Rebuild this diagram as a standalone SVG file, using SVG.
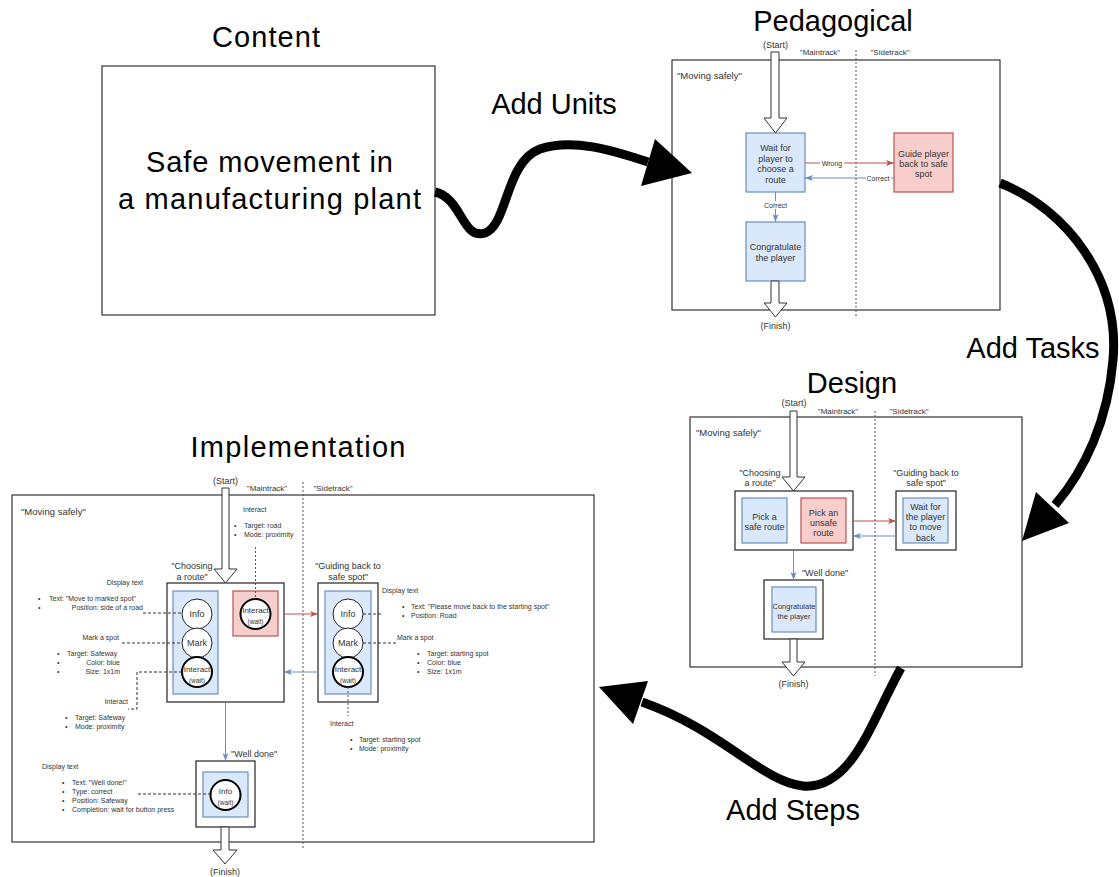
<svg xmlns="http://www.w3.org/2000/svg" width="1119" height="877" viewBox="0 0 1119 877">
<defs>
<style>
text{font-family:"Liberation Sans",Arial,sans-serif;fill:#333}
.title{font-size:29px;fill:#000;text-anchor:middle}
.big{font-size:29px;fill:#000;text-anchor:middle}
.m{text-anchor:middle}
.e{text-anchor:end}
.f10{font-size:9.5px}
.f9{font-size:9px}
.f8{font-size:8px}
.f75{font-size:7.5px}
.f7{font-size:7px}
.f6{font-size:6.5px}
.panel{fill:#fff;stroke:#333;stroke-width:1.2}
.cont{fill:#fff;stroke:#222;stroke-width:1.2}
.blue{fill:#dae8fc;stroke:#6c8ebf;stroke-width:1.2}
.red{fill:#f8cecc;stroke:#b85450;stroke-width:1.2}
.circ{fill:#fff;stroke:#222;stroke-width:1}
.circT{fill:#fff;stroke:#000;stroke-width:2}
.lane{stroke:#555;stroke-width:1;stroke-dasharray:2 2;fill:none}
.dash{stroke:#333;stroke-width:1;stroke-dasharray:3 2;fill:none}
.dot{stroke:#555;stroke-width:1;stroke-dasharray:2 2;fill:none}
.ar{stroke:#b85450;stroke-width:1;fill:none;marker-end:url(#mr)}
.ab{stroke:#6c8ebf;stroke-width:1;fill:none;marker-end:url(#mb)}
.hollow{fill:#fff;stroke:#333;stroke-width:1}
.thick{fill:none;stroke:#000;stroke-width:9}
.lbl{fill:#fff}
</style>
<marker id="mr" viewBox="0 0 8 6" refX="8" refY="3" markerWidth="8" markerHeight="6" markerUnits="userSpaceOnUse" orient="auto"><path d="M0,0 L8,3 L0,6 L2,3 z" fill="#b85450"/></marker>
<marker id="mb" viewBox="0 0 8 6" refX="8" refY="3" markerWidth="8" markerHeight="6" markerUnits="userSpaceOnUse" orient="auto"><path d="M0,0 L8,3 L0,6 L2,3 z" fill="#6c8ebf"/></marker>
</defs>
<rect width="1119" height="877" fill="#fff"/>

<!-- Content -->
<g id="content">
<text class="title" x="266" y="47" textLength="108">Content</text>
<rect x="102" y="66" width="333" height="249" fill="#fff" stroke="#333" stroke-width="1.2"/>
<text class="big" x="269.5" y="172" textLength="247">Safe movement in</text>
<text class="big" x="269.5" y="209" textLength="303">a manufacturing plant</text>
</g>

<g id="labels">
<text class="big" x="554" y="114">Add Units</text>
<text class="big" x="1033" y="358">Add Tasks</text>
<text class="big" x="793" y="820">Add Steps</text>
</g>

<!-- Pedagogical -->
<g id="pedagogical">
<text class="title" x="833" y="31">Pedagogical</text>
<rect class="panel" x="672" y="60" width="328" height="250"/>
<line class="lane" x1="856" y1="50" x2="856" y2="318"/>
<text class="f9 m" x="775.5" y="48">(Start)</text>
<text class="f8 m" x="820" y="55">"Maintrack"</text>
<text class="f8 m" x="890" y="55">"Sidetrack"</text>
<text class="f10" x="677" y="79">"Moving safely"</text>
<text class="f9 m" x="775.5" y="329">(Finish)</text>
</g>
<g id="ped-wait">
<rect class="blue" x="746" y="133" width="59" height="59"/>
<text class="f9 m" x="775.5" y="151">Wait for</text>
<text class="f9 m" x="775.5" y="162">player to</text>
<text class="f9 m" x="775.5" y="172">choose a</text>
<text class="f9 m" x="775.5" y="183">route</text>
</g>
<g id="ped-guide">
<rect class="red" x="894" y="133" width="59" height="59"/>
<text class="f9 m" x="923.5" y="157">Guide player</text>
<text class="f9 m" x="923.5" y="167">back to safe</text>
<text class="f9 m" x="923.5" y="177">spot</text>
</g>
<g id="ped-congrat">
<rect class="blue" x="746" y="222" width="59" height="59"/>
<text class="f9 m" x="775.5" y="250">Congratulate</text>
<text class="f9 m" x="775.5" y="261">the player</text>
</g>

<!-- Design -->
<g id="design">
<text class="title" x="852" y="393">Design</text>
<rect class="panel" x="690" y="417" width="332" height="250"/>
<line class="lane" x1="875" y1="411" x2="875" y2="676"/>
<text class="f9 m" x="794" y="406">(Start)</text>
<text class="f8 m" x="838" y="414">"Maintrack"</text>
<text class="f8 m" x="909" y="414">"Sidetrack"</text>
<text class="f10" x="696" y="436">"Moving safely"</text>
<text class="f9 m" x="793.5" y="687">(Finish)</text>
</g>
<g id="des-choosing">
<text class="f9 m" x="760" y="476">"Choosing</text>
<text class="f9 m" x="760" y="486">a route"</text>
<rect class="cont" x="735" y="491" width="118" height="59"/>
<rect class="blue" x="742" y="498" width="45" height="45"/>
<text class="f9 m" x="764.5" y="520">Pick a</text>
<text class="f9 m" x="764.5" y="530">safe route</text>
<rect class="red" x="801" y="498" width="45" height="45"/>
<text class="f9 m" x="823.5" y="516">Pick an</text>
<text class="f9 m" x="823.5" y="526">unsafe</text>
<text class="f9 m" x="823.5" y="536">route</text>
</g>
<g id="des-guiding">
<text class="f9 m" x="926" y="476">"Guiding back to</text>
<text class="f9 m" x="926" y="486">safe spot"</text>
<rect class="cont" x="896" y="491" width="60" height="59"/>
<rect class="blue" x="903" y="498" width="45" height="45"/>
<text class="f9 m" x="925.5" y="510">Wait for</text>
<text class="f9 m" x="925.5" y="520">the player</text>
<text class="f9 m" x="925.5" y="530">to move</text>
<text class="f9 m" x="925.5" y="541">back</text>
</g>
<g id="des-welldone">
<text class="f9 m" x="825" y="576">"Well done"</text>
<rect class="cont" x="764" y="580" width="59" height="59"/>
<rect class="blue" x="772" y="587" width="44" height="45"/>
<text class="f75 m" x="794" y="609">Congratulate</text>
<text class="f75 m" x="794" y="619">the player</text>
</g>

<!-- Implementation -->
<g id="implementation">
<text class="title" x="298" y="457" textLength="215">Implementation</text>
<rect class="panel" x="12" y="495" width="582" height="347"/>
<line class="lane" x1="303" y1="482" x2="303" y2="850"/>
<text class="f9 m" x="225.5" y="484">(Start)</text>
<text class="f8 m" x="267" y="491">"Maintrack"</text>
<text class="f8 m" x="333" y="491">"Sidetrack"</text>
<text class="f10" x="21" y="515">"Moving safely"</text>
<text class="f9 m" x="225" y="875">(Finish)</text>
</g>
<g id="imp-choosing">
<text class="f9 m" x="192" y="569">"Choosing</text>
<text class="f9 m" x="192" y="580">a route"</text>
<rect class="cont" x="167" y="583" width="117" height="119"/>
<rect class="blue" x="173" y="591" width="45" height="103"/>
<circle class="circ" cx="197" cy="614" r="15"/>
<text class="f9 m" x="197" y="617">Info</text>
<circle class="circ" cx="197" cy="643" r="15"/>
<text class="f9 m" x="197" y="646">Mark</text>
<circle class="circT" cx="197" cy="672" r="15"/>
<text class="f8 m" x="197" y="672">Interact</text>
<text class="f6 m" x="197" y="683">(wait)</text>
<rect class="red" x="233" y="591" width="45" height="45"/>
<circle class="circT" cx="255.5" cy="614" r="15"/>
<text class="f8 m" x="255.5" y="613">Interact</text>
<text class="f6 m" x="255.5" y="624">(wait)</text>
</g>
<g id="imp-guiding">
<text class="f9 m" x="348" y="569">"Guiding back to</text>
<text class="f9 m" x="348" y="580">safe spot"</text>
<rect class="cont" x="318" y="583" width="60" height="119"/>
<rect class="blue" x="325" y="591" width="46" height="103"/>
<circle class="circ" cx="348" cy="614" r="15"/>
<text class="f9 m" x="348" y="617">Info</text>
<circle class="circ" cx="348" cy="643" r="15"/>
<text class="f9 m" x="348" y="646">Mark</text>
<circle class="circT" cx="348" cy="672" r="15"/>
<text class="f8 m" x="348" y="672">Interact</text>
<text class="f6 m" x="348" y="683">(wait)</text>
</g>
<g id="imp-welldone">
<text class="f9" x="231" y="757">"Well done"</text>
<rect class="cont" x="196" y="761" width="59" height="66"/>
<rect class="blue" x="203" y="772" width="45" height="45"/>
<circle class="circT" cx="225.5" cy="795" r="15"/>
<text class="f8 m" x="225.5" y="794">Info</text>
<text class="f6 m" x="225.5" y="805">(wait)</text>
</g>

<!-- Annotations -->
<g id="ann-top">
<text class="f7" x="243" y="512">Interact</text>
<text class="f7" x="234" y="528">•</text><text class="f7" x="244" y="528">Target: road</text>
<text class="f7" x="234" y="537">•</text><text class="f7" x="244" y="537">Mode: proximity</text>
</g>
<g id="ann-left">
<text class="f7 e" x="143" y="585">Display text</text>
<text class="f7" x="38" y="601">•</text><text class="f7" x="49" y="601">Text: "Move to marked spot"</text>
<text class="f7" x="38" y="610">•</text><text class="f7 e" x="143" y="610">Position: side of a road</text>
<text class="f7 e" x="119" y="640">Mark a spot</text>
<text class="f7" x="57" y="656">•</text><text class="f7" x="67" y="656">Target: Safeway</text>
<text class="f7" x="57" y="665">•</text><text class="f7 e" x="120" y="665">Color: blue</text>
<text class="f7" x="57" y="674">•</text><text class="f7 e" x="120" y="674">Size: 1x1m</text>
<text class="f7 e" x="128" y="704">Interact</text>
<text class="f7" x="65" y="720">•</text><text class="f7" x="75" y="720">Target: Safeway</text>
<text class="f7" x="65" y="729">•</text><text class="f7" x="75" y="729">Mode: proximity</text>
</g>
<g id="ann-right">
<text class="f7" x="382" y="593">Display text</text>
<text class="f7" x="402" y="609">•</text><text class="f7" x="411" y="609">Text: "Please move back to the starting spot"</text>
<text class="f7" x="402" y="618">•</text><text class="f7" x="411" y="618">Position: Road</text>
<text class="f7" x="397" y="640">Mark a spot</text>
<text class="f7" x="417" y="656">•</text><text class="f7" x="427" y="656">Target: starting spot</text>
<text class="f7" x="417" y="665">•</text><text class="f7" x="427" y="665">Color: blue</text>
<text class="f7" x="417" y="674">•</text><text class="f7" x="427" y="674">Size: 1x1m</text>
<text class="f7" x="330" y="726">Interact</text>
<text class="f7" x="350" y="742">•</text><text class="f7" x="359" y="742">Target: starting spot</text>
<text class="f7" x="350" y="751">•</text><text class="f7" x="359" y="751">Mode: proximity</text>
</g>
<g id="ann-bottom">
<text class="f7" x="42" y="769">Display text</text>
<text class="f7" x="62" y="785">•</text><text class="f7" x="72" y="785">Text: "Well done!"</text>
<text class="f7" x="62" y="794">•</text><text class="f7" x="72" y="794">Type: correct</text>
<text class="f7" x="62" y="803">•</text><text class="f7" x="72" y="803">Position: Safeway</text>
<text class="f7" x="62" y="812">•</text><text class="f7" x="72" y="812">Completion: wait for button press</text>
</g>

<!-- Connectors -->
<g id="connectors">
<path class="thick" d="M 435 192 C 462 198, 462 240, 485 233 C 508 225, 505 162, 540 149 C 572 138, 612 150, 648 162"/>
<polygon points="655,139 692,173 641,186" fill="#000"/>
<path class="thick" d="M 1000 183 C 1068 210, 1120 280, 1113 360 C 1108 420, 1085 470, 1055 505"/>
<polygon points="1069,523 1022,541 1036,492" fill="#000"/>
<path class="thick" d="M 901 668 C 872 720, 852 790, 803 786 C 762 782, 722 730, 642 702"/>
<polygon points="648,681 599,687 633,724" fill="#000"/>

<polygon class="hollow" points="771,52 779,52 779,118 787,118 775.5,133 764,118 771,118"/>
<line class="ar" x1="805" y1="163" x2="894" y2="163"/>
<rect class="lbl" x="820" y="159" width="24" height="8"/>
<text class="f7 m" x="832" y="166">Wrong</text>
<line class="ab" x1="894" y1="178" x2="805" y2="178"/>
<rect class="lbl" x="866" y="174" width="25" height="8"/>
<text class="f7 m" x="878" y="181">Correct</text>
<line class="ab" x1="775.5" y1="192" x2="775.5" y2="222"/>
<rect class="lbl" x="763" y="201" width="25" height="8"/>
<text class="f7 m" x="775.5" y="208">Correct</text>
<polygon class="hollow" points="771,281 779,281 779,303 787,303 775.5,317 764,303 771,303"/>

<polygon class="hollow" points="790,411 797,411 797,477 805,477 793.5,491 782,477 790,477"/>
<line class="ar" x1="853" y1="521" x2="896" y2="521"/>
<line class="ab" x1="896" y1="536" x2="853" y2="536"/>
<line class="ab" x1="793.5" y1="550" x2="793.5" y2="580"/>
<polygon class="hollow" points="790,639 797,639 797,662 805,662 793.5,676 782,662 790,662"/>

<polygon class="hollow" points="222,488 229,488 229,569 237,569 225.5,583 214,569 222,569"/>
<line class="ar" x1="284" y1="614" x2="318" y2="614"/>
<line class="ab" x1="318" y1="672" x2="284" y2="672"/>
<line class="ab" x1="225.5" y1="702" x2="225.5" y2="761"/>
<polygon class="hollow" points="221,827 229,827 229,850 237,850 225,864 213,850 221,850"/>

<line class="dot" x1="255.5" y1="547" x2="255.5" y2="599"/>
<line class="dash" x1="143" y1="613" x2="182" y2="613"/>
<line class="dash" x1="122" y1="643" x2="182" y2="643"/>
<polyline class="dash" points="182,672 137,672 137,709 128,709"/>
<line class="dash" x1="363" y1="614" x2="382" y2="614"/>
<line class="dash" x1="363" y1="643" x2="396" y2="643"/>
<line class="dot" x1="348" y1="687" x2="348" y2="716"/>
<line class="dash" x1="138" y1="794" x2="210" y2="794"/>
</g>
</svg>
